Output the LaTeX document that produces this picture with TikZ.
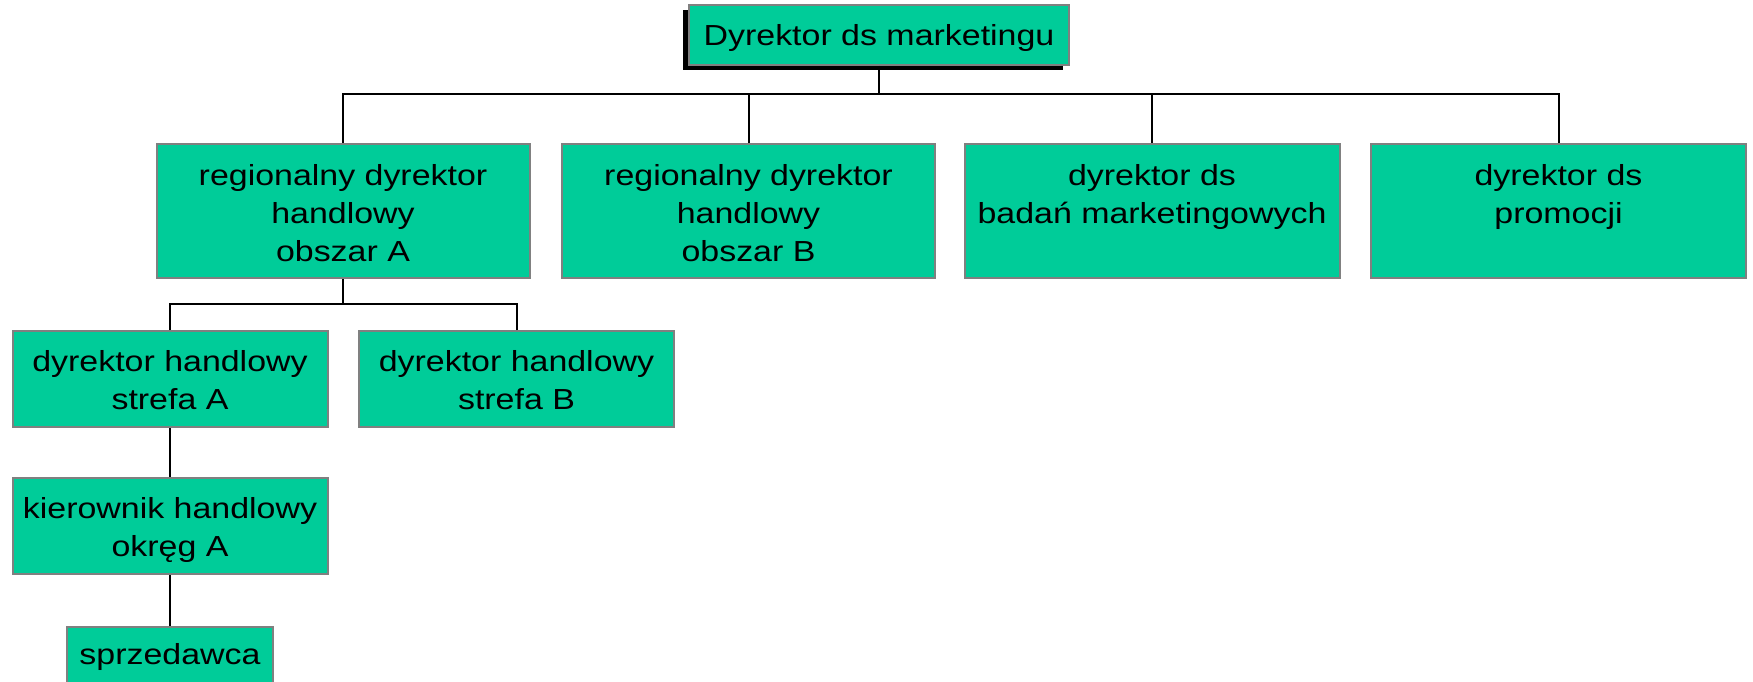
\documentclass[tikz,border=0pt]{standalone}
\usepackage{fontspec}
\setmainfont{Liberation Sans}[FakeStretch=1.17]
\usetikzlibrary{shadows}
\definecolor{boxgreen}{RGB}{0,204,153}
\definecolor{boxgray}{RGB}{128,128,128}
\begin{document}
\begin{tikzpicture}[x=1pt,y=-1pt,
  box/.style={draw=boxgray, line width=2pt, fill=boxgreen, rectangle, inner sep=0pt},
  txt/.style={inner sep=0pt, align=center, font=\fontsize{29}{38}\selectfont, anchor=north},
  conn/.style={draw=black, line width=2pt}]
\useasboundingbox (0,0) rectangle (1753,682);
% boxes
\node[box, minimum width=380pt, minimum height=60pt,
  drop shadow={shadow xshift=-6pt, shadow yshift=-5pt, fill=black, opacity=1}] (T) at (879,35) {};
\node[box, minimum width=373pt, minimum height=134pt] (A) at (343,211) {};
\node[box, minimum width=373pt, minimum height=134pt] (B) at (748.5,211) {};
\node[box, minimum width=375pt, minimum height=134pt] (C) at (1152,211) {};
\node[box, minimum width=375pt, minimum height=134pt] (D) at (1558.5,211) {};
\node[box, minimum width=315pt, minimum height=96pt] (SA) at (170,379) {};
\node[box, minimum width=315pt, minimum height=96pt] (SB) at (516.5,379) {};
\node[box, minimum width=315pt, minimum height=96pt] (KA) at (170,526) {};
\node[box, minimum width=206pt, minimum height=70pt] (S) at (170,662) {};
% texts
\node[txt] (Tt) at ([yshift=-20pt]T.north) {Dyrektor ds marketingu};
\node[txt] (At) at ([yshift=-21pt]A.north) {regionalny dyrektor\\handlowy\\obszar A};
\node[txt] (Bt) at ([yshift=-21pt]B.north) {regionalny dyrektor\\handlowy\\obszar B};
\node[txt] (Ct) at ([yshift=-21pt]C.north) {dyrektor ds\\badań marketingowych};
\node[txt] (Dt) at ([yshift=-21pt]D.north) {dyrektor ds\\promocji};
\node[txt] (SAt) at ([yshift=-20pt]SA.north) {dyrektor handlowy\\strefa A};
\node[txt] (SBt) at ([yshift=-20pt]SB.north) {dyrektor handlowy\\strefa B};
\node[txt] (KAt) at ([yshift=-20pt]KA.north) {kierownik handlowy\\okręg A};
\node[txt] (St) at ([yshift=-17pt]S.north) {sprzedawca};
% connectors
\coordinate (j1) at (879,94);
\coordinate (j2) at (343,304);
\draw[conn] (T.south) -- (j1);
\draw[conn] (A.north) |- (j1);
\draw[conn] (D.north) |- (j1);
\draw[conn] (B.north) -- (B.north |- j1);
\draw[conn] (C.north) -- (C.north |- j1);
\draw[conn] (A.south) -- (j2);
\draw[conn] (SA.north) |- (j2);
\draw[conn] (SB.north) |- (j2);
\draw[conn] (SA.south) -- (KA.north);
\draw[conn] (KA.south) -- (S.north);
\end{tikzpicture}
\end{document}
